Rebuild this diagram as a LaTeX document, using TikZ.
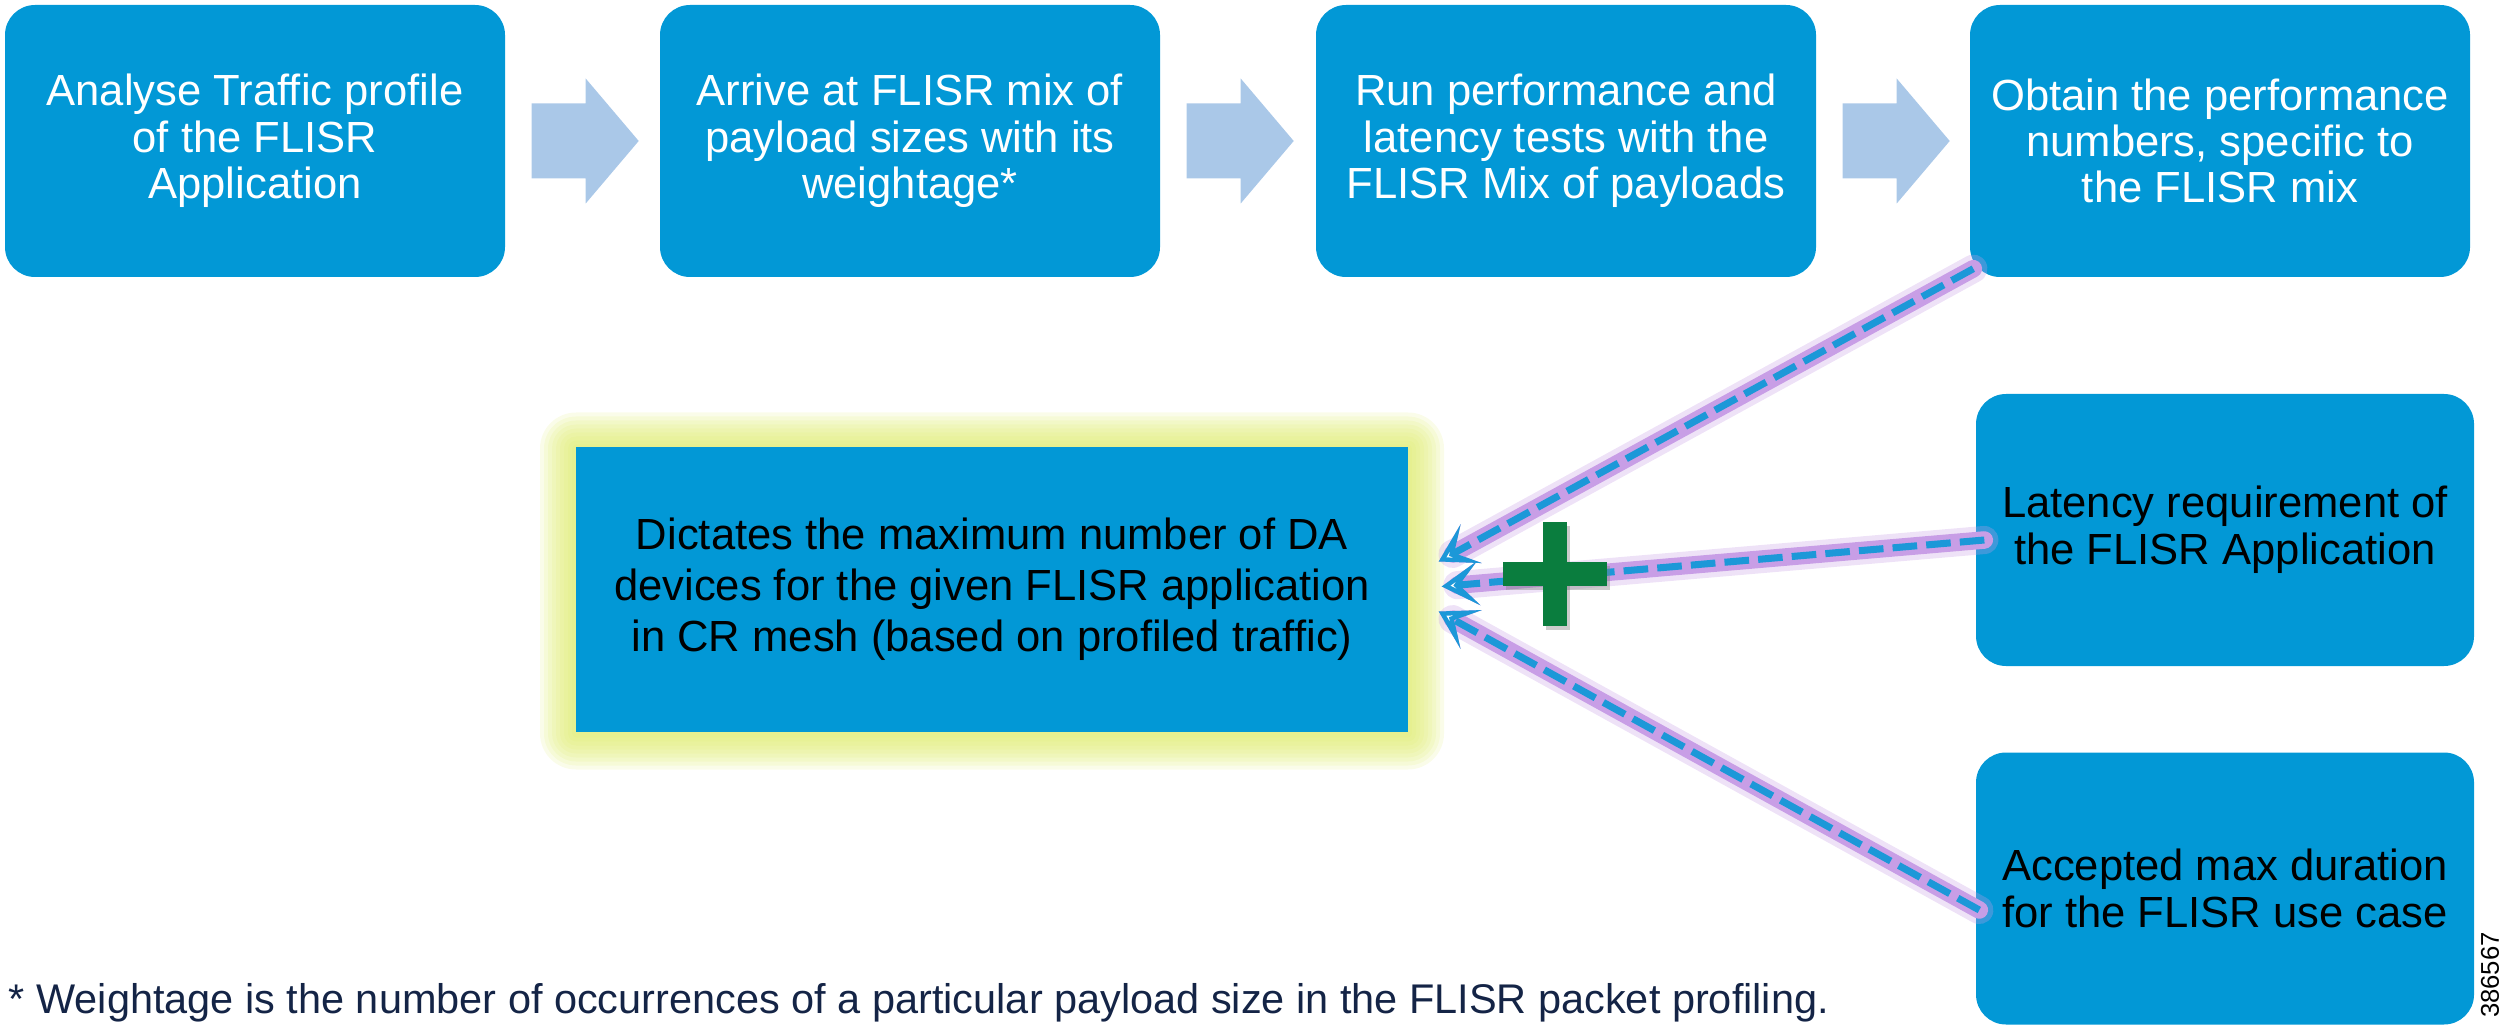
\documentclass[tikz,border=0pt]{standalone}
\usepackage{fontspec}
\setmainfont{Liberation Sans}
\usetikzlibrary{arrows.meta}

\definecolor{boxblue}{RGB}{2,152,214}
\definecolor{arrowblue}{RGB}{170,200,232}
\definecolor{linkblue}{RGB}{28,152,216}
\definecolor{glowpurple}{RGB}{200,158,230}
\definecolor{glowyellow}{RGB}{222,236,110}
\definecolor{plusgreen}{RGB}{10,125,62}
\definecolor{notenavy}{RGB}{20,36,70}

\begin{document}
\begin{tikzpicture}[
  stepbox/.style={fill=boxblue, rounded corners=0.3cm, minimum width=5cm, minimum height=2.72cm,
    inner sep=0pt, align=center, text=white, font=\fontsize{12.4}{13.2}\selectfont},
  needbox/.style={stepbox, minimum width=4.98cm, text=black, font=\fontsize{12.4}{13.4}\selectfont},
  resultbox/.style={fill=boxblue, minimum width=8.32cm, minimum height=2.85cm,
    inner sep=0pt, align=center, font=\fontsize{12.4}{14.5}\selectfont},
  fatarrow/.style={fill=arrowblue},
  link/.style={linkblue, line width=2pt, dash pattern=on 7pt off 2.6pt,
    -{Stealth[length=10.5pt,width=12.5pt,inset=5.5pt,fill=white,line width=1.8pt]}},
  halo/.style={glowpurple, line width=#1, line cap=round, line join=round,
    -{Stealth[length=10.5pt,width=12.5pt,inset=5.5pt,line width=#1]}},
]
\useasboundingbox (0,0) rectangle (25.09,-10.31);

% glow behind the result box
\coordinate (dc) at (9.92,-5.91);
\foreach \r in {0.36,0.32,...,0.02}
  \fill[glowyellow, opacity=0.15, rounded corners=\r cm]
    ([shift={(-4.16-\r,-1.425-\r)}]dc) rectangle ([shift={(4.16+\r,1.425+\r)}]dc);
\node[resultbox] (dict) at (9.92,-5.895) {Dictates the maximum number of DA\\devices for the given FLISR application\\in CR mesh (based on profiled traffic)};

% process steps
\node[stepbox] (b1) at (2.55,-1.41) {Analyse Traffic profile\\of the FLISR\\Application};
\node[stepbox] (b2) at (9.10,-1.41) {Arrive at FLISR mix of\\payload sizes with its\\weightage*};
\node[stepbox] (b3) at (15.66,-1.41) {Run performance and\\latency tests with the\\FLISR Mix of payloads};
\node[stepbox] (b4) at (22.20,-1.41) {Obtain the performance\\numbers, specific to\\the FLISR mix};
\node[needbox] (b5) at (22.25,-5.30) {Latency requirement of\\the FLISR Application};
\node[needbox] (b6) at (22.25,-8.885) {Accepted max duration\\for the FLISR use case};

\foreach \a in {b1,b2,b3}
  \fill[fatarrow] ([xshift=0.26cm]\a.east) ++(0,0.375) -- ++(0.54,0) -- ++(0,0.25) -- ++(0.53,-0.625)
    -- ++(-0.53,-0.625) -- ++(0,0.25) -- ++(-0.54,0) -- cycle;

% inputs into the result
\coordinate (s1) at ([shift={(0.04,0.09)}]b4.south west);
\coordinate (s2) at ([shift={(0.09,-0.10)}]b5.west);
\coordinate (s3) at ([shift={(0.04,-0.215)}]b6.west);
\coordinate (t1) at ([shift={(0.30,0.28)}]dict.east);
\coordinate (t2) at ([shift={(0.33,0.03)}]dict.east);
\coordinate (t3) at ([shift={(0.30,-0.22)}]dict.east);
\foreach \s/\t in {s1/t1,s2/t2,s3/t3} {
  \draw[halo=8pt, opacity=0.3] (\s) -- (\t);
  \draw[halo=5pt] (\s) -- (\t);
}
\foreach \s/\t in {s1/t1,s2/t2,s3/t3}
  \draw[link] (\s) -- (\t);

% plus sign
\coordinate (plus) at (15.55,-5.74);
\fill[gray, opacity=0.4] ([shift={(-0.49,-0.16)}]plus) rectangle ([shift={(0.55,0.08)}]plus);
\fill[gray, opacity=0.4] ([shift={(-0.09,-0.56)}]plus) rectangle ([shift={(0.15,0.48)}]plus);
\fill[plusgreen] ([shift={(-0.52,-0.12)}]plus) rectangle ([shift={(0.52,0.12)}]plus);
\fill[plusgreen] ([shift={(-0.12,-0.52)}]plus) rectangle ([shift={(0.12,0.52)}]plus);

\node[anchor=base west, inner sep=0pt, text=notenavy, font=\fontsize{11.8}{14}\selectfont] (note) at (0.08,-10.13)
  {* Weightage is the number of occurrences of a particular payload size in the FLISR packet profiling.};
\node[rotate=90, inner sep=0pt, font=\fontsize{7.3}{8}\selectfont] (fig) at (24.90,-9.75) {386567};
\end{tikzpicture}
\end{document}
